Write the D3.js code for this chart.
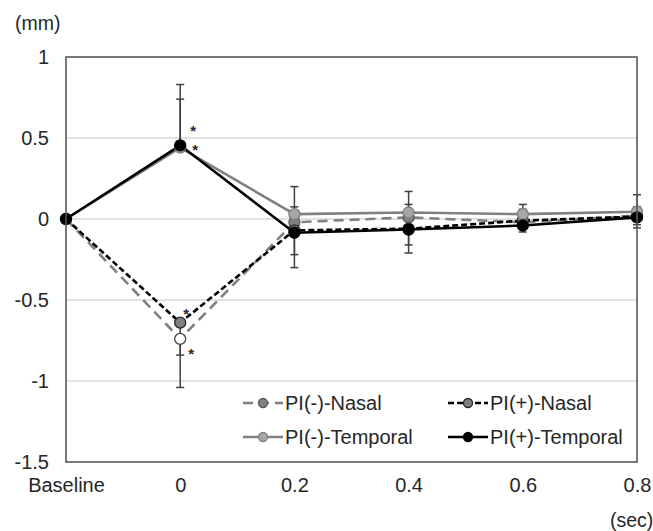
<!DOCTYPE html>
<html>
<head>
<meta charset="utf-8">
<script src="https://cdn.jsdelivr.net/npm/d3@7"></script>
<style>
  html, body { margin: 0; padding: 0; background: #fff; }
  svg { display: block; }
  text { font-family: "Liberation Sans", Arial, sans-serif; fill: #262626; }
</style>
</head>
<body>
<div id="chart"></div>
<script>
// categories along x
const categories = ['Baseline', '0', '0.2', '0.4', '0.6', '0.8'];
const yTicks = [1, 0.5, 0, -0.5, -1, -1.5];

// mean displacement (mm)
const nasalMinus = [0, -0.74, -0.02, 0.01, -0.02, 0.02];
const nasalPlus = [0, -0.64, -0.07, -0.06, -0.01, 0.015];
const temporalMinus = [0, 0.44, 0.03, 0.04, 0.03, 0.045];
const temporalPlus = [0, 0.455, -0.085, -0.065, -0.04, 0.01];

// one-sided error bars (nasal drawn downward, temporal upward)
const nasalMinusErr = [0, 0.30, 0.28, 0.22, 0.06, 0.075];
const nasalPlusErr = [0, 0.20, 0.15, 0.10, 0.05, 0.05];
const temporalMinusErr = [0, 0.30, 0.045, 0.05, 0.03, 0.03];
const temporalPlusErr = [0, 0.375, 0.285, 0.235, 0.13, 0.14];

const seriesNames = ['PI(-)-Nasal', 'PI(+)-Nasal', 'PI(-)-Temporal', 'PI(+)-Temporal'];

// significance marks: series index, category
const stars = [
  {s: 3, c: '0', dx: 13, dy: -18},
  {s: 3, c: '0', dx: 15, dy: 1},
  {s: 1, c: '0', dx: 6, dy: -13},
  {s: 0, c: '0', dx: 11, dy: 11}
];

const W = 653, H = 531;
const plot = {left: 66, right: 637, top: 57, bottom: 462};

const svg = d3.select('#chart').append('svg')
  .attr('width', W).attr('height', H);

const x = d3.scalePoint()
  .domain(categories)
  .range([plot.left, plot.right]);

const y = d3.scaleLinear()
  .domain([-1.5, 1])
  .range([plot.bottom, plot.top]);

// styles per series
const styles = [
  {line: '#808080', dash: '10,6', fill: '#808080', stroke: '#595959', dir: 1},
  {line: '#000000', dash: '6,3', fill: '#808080', stroke: '#262626', dir: 1},
  {line: '#808080', dash: null, fill: '#a6a6a6', stroke: '#7f7f7f', dir: -1},
  {line: '#000000', dash: null, fill: '#000000', stroke: '#000000', dir: -1}
];

const series = [
  {name: seriesNames[0], values: nasalMinus, err: nasalMinusErr},
  {name: seriesNames[1], values: nasalPlus, err: nasalPlusErr},
  {name: seriesNames[2], values: temporalMinus, err: temporalMinusErr},
  {name: seriesNames[3], values: temporalPlus, err: temporalPlusErr}
].map((d, i) => Object.assign(d, styles[i]));

// gridlines
svg.append('g')
  .selectAll('line')
  .data(yTicks.filter(t => t !== 1 && t !== -1.5))
  .join('line')
  .attr('x1', plot.left).attr('x2', plot.right)
  .attr('y1', d => y(d)).attr('y2', d => y(d))
  .attr('stroke', '#d9d9d9')
  .attr('stroke-width', 1.3);

// y axis labels
const yAxis = svg.append('g')
  .attr('transform', `translate(${plot.left},0)`)
  .call(d3.axisLeft(y).tickValues(yTicks).tickSize(0).tickPadding(17)
    .tickFormat(d => String(d)));
yAxis.select('.domain').remove();
yAxis.selectAll('text')
  .attr('font-size', 20)
  .attr('fill', '#262626')
  .attr('font-family', '"Liberation Sans", Arial, sans-serif');

// x axis labels
const xAxis = svg.append('g')
  .attr('transform', `translate(0,${plot.bottom})`)
  .call(d3.axisBottom(x).tickSize(0).tickPadding(16));
xAxis.select('.domain').remove();
xAxis.selectAll('text')
  .attr('font-size', 20)
  .attr('fill', '#262626')
  .attr('font-family', '"Liberation Sans", Arial, sans-serif');

// unit labels
svg.append('text').attr('x', 15).attr('y', 30)
  .attr('font-size', 19.5).text('(mm)');
svg.append('text').attr('x', 610).attr('y', 527)
  .attr('font-size', 19.5).text('(sec)');

// error bars
series.forEach(s => {
  const g = svg.append('g');
  s.values.forEach((v, i) => {
    if (!s.err[i]) return;
    const cx = x(categories[i]);
    const y0 = y(v), y1 = y(v - s.dir * s.err[i]);
    g.append('line').attr('x1', cx).attr('x2', cx).attr('y1', y0).attr('y2', y1)
      .attr('stroke', '#404040').attr('stroke-width', 1.5);
    g.append('line').attr('x1', cx - 4).attr('x2', cx + 4).attr('y1', y1).attr('y2', y1)
      .attr('stroke', '#404040').attr('stroke-width', 1.5);
  });
});

// lines
const line = d3.line()
  .x((d, i) => x(categories[i]))
  .y(d => y(d));

series.forEach(s => {
  svg.append('path')
    .datum(s.values)
    .attr('d', line)
    .attr('fill', 'none')
    .attr('stroke', s.line)
    .attr('stroke-width', 2.6)
    .attr('stroke-dasharray', s.dash);
});

// markers
series.forEach((s, si) => {
  svg.append('g')
    .selectAll('circle')
    .data(s.values)
    .join('circle')
    .attr('cx', (d, i) => x(categories[i]))
    .attr('cy', d => y(d))
    .attr('r', 5.5)
    // the PI(-)-Nasal point at 0 is drawn open in the original
    .attr('fill', (d, i) => (si === 0 && categories[i] === '0') ? '#ffffff' : s.fill)
    .attr('stroke', (d, i) => (si === 0 && categories[i] === '0') ? '#404040' : s.stroke)
    .attr('stroke-width', 1.3);
});

// asterisks
svg.append('g')
  .selectAll('text')
  .data(stars)
  .join('text')
  .attr('x', d => x(d.c) + d.dx)
  .attr('y', d => y(series[d.s].values[categories.indexOf(d.c)]) + d.dy + 9)
  .attr('text-anchor', 'middle')
  .attr('font-size', 15)
  .attr('font-weight', 'bold')
  .attr('fill', '#262626')
  .text('*');

// plot frame
svg.append('rect')
  .attr('x', plot.left).attr('y', plot.top)
  .attr('width', plot.right - plot.left)
  .attr('height', plot.bottom - plot.top)
  .attr('fill', 'none')
  .attr('stroke', '#595959')
  .attr('stroke-width', 1.6);

// legend
const legendPos = [
  {lx: 243, ty: 403},
  {lx: 448, ty: 403},
  {lx: 243, ty: 437},
  {lx: 448, ty: 437}
];
series.forEach((s, i) => {
  const p = legendPos[i];
  const g = svg.append('g');
  g.append('line')
    .attr('x1', p.lx).attr('x2', p.lx + 40)
    .attr('y1', p.ty).attr('y2', p.ty)
    .attr('stroke', s.line).attr('stroke-width', 2.6)
    .attr('stroke-dasharray', s.dash);
  g.append('circle')
    .attr('cx', p.lx + 20).attr('cy', p.ty).attr('r', 4.5)
    .attr('fill', s.fill).attr('stroke', s.stroke).attr('stroke-width', 1.3);
  g.append('text')
    .attr('x', p.lx + 42).attr('y', p.ty)
    .attr('dy', '0.35em')
    .attr('font-size', 20)
    .text(s.name);
});
</script>
</body>
</html>
